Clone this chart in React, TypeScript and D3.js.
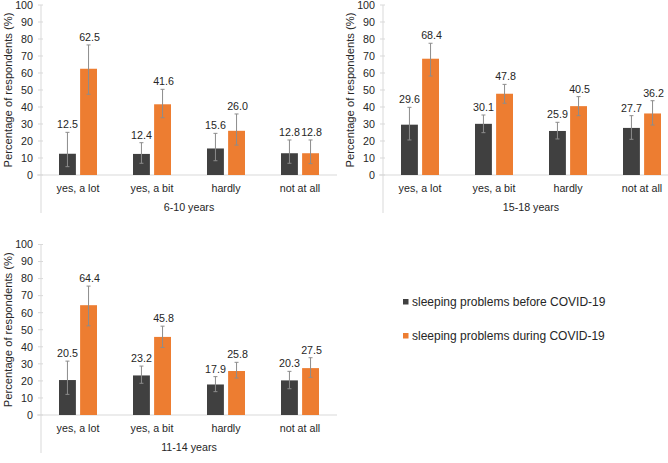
import React, { useRef, useEffect } from "react";
import { select, scaleBand, scaleLinear, range } from "d3";

const categories = ["yes, a lot", "yes, a bit", "hardly", "not at all"];
const seriesNames = ["sleeping problems before COVID-19", "sleeping problems during COVID-19"];
const yTicks = [0, 10, 20, 30, 40, 50, 60, 70, 80, 90, 100];

// 6-10 years
const before6to10 = [12.5, 12.4, 15.6, 12.8];
const during6to10 = [62.5, 41.6, 26.0, 12.8];
const before6to10Low = [4.9, 6.9, 8.4, 6.9];
const before6to10High = [25.1, 19.0, 24.5, 20.6];
const during6to10Low = [47.5, 33.7, 17.6, 6.7];
const during6to10High = [76.5, 50.4, 35.9, 20.6];

// 15-18 years
const before15to18 = [29.6, 30.1, 25.9, 27.7];
const during15to18 = [68.4, 47.8, 40.5, 36.2];
const before15to18Low = [20.6, 24.9, 21.2, 21.0];
const before15to18High = [39.8, 35.3, 31.0, 34.9];
const during15to18Low = [58.2, 42.2, 34.9, 29.4];
const during15to18High = [77.5, 53.3, 46.1, 43.7];

// 11-14 years
const before11to14 = [20.5, 23.2, 17.9, 20.3];
const during11to14 = [64.4, 45.8, 25.8, 27.5];
const before11to14Low = [12.1, 18.6, 13.7, 15.4];
const before11to14High = [31.6, 28.7, 22.5, 25.6];
const during11to14Low = [52.3, 39.6, 21.7, 22.1];
const during11to14High = [75.6, 52.1, 30.9, 33.6];

const colors = ["#404040", "#ED7D31"];
const font = "'Liberation Sans', Arial, sans-serif";
const textColor = "#262626";
const axisColor = "#d9d9d9";

const panels = [
  { title: "6-10 years", left: 41, top: 5, bottom: 175,
    values: [before6to10, during6to10], lows: [before6to10Low, during6to10Low], highs: [before6to10High, during6to10High] },
  { title: "15-18 years", left: 383, top: 5, bottom: 175,
    values: [before15to18, during15to18], lows: [before15to18Low, during15to18Low], highs: [before15to18High, during15to18High] },
  { title: "11-14 years", left: 41, top: 244.5, bottom: 415,
    values: [before11to14, during11to14], lows: [before11to14Low, during11to14Low], highs: [before11to14High, during11to14High] },
];

function App() {
  const svgRef = useRef<SVGSVGElement>(null);

  useEffect(() => {
    document.body.style.margin = "0";
    const svg = select(svgRef.current);
    svg.selectAll("*").remove();

    panels.forEach((p) => {
      const g = svg.append("g");
      const plotWidth = 296;
      const x0 = scaleBand().domain(categories).range([p.left, p.left + plotWidth]);
      const bw = x0.bandwidth();
      const x1 = scaleBand().domain(["0", "1"]).range([bw / 2 - 19, bw / 2 + 19]).paddingInner(0.2);
      const y = scaleLinear().domain([0, 100]).range([p.bottom, p.top]);

      // axes
      g.append("line")
        .attr("x1", p.left).attr("x2", p.left)
        .attr("y1", p.top).attr("y2", p.bottom + 38)
        .attr("stroke", axisColor);
      g.append("line")
        .attr("x1", p.left - 4).attr("x2", p.left + plotWidth)
        .attr("y1", p.bottom).attr("y2", p.bottom)
        .attr("stroke", axisColor);
      g.selectAll(".tick")
        .data(yTicks)
        .join("line")
        .attr("x1", p.left - 3).attr("x2", p.left + 2)
        .attr("y1", (d) => y(d)).attr("y2", (d) => y(d))
        .attr("stroke", axisColor);
      g.selectAll(".ticklabel")
        .data(yTicks)
        .join("text")
        .attr("x", p.left - 8)
        .attr("y", (d) => y(d) + 3.8)
        .attr("text-anchor", "end")
        .attr("font-size", 10.7)
        .attr("fill", textColor)
        .text((d) => d);

      g.append("text")
        .attr("transform", `translate(${p.left - 29},${(p.top + p.bottom) / 2}) rotate(-90)`)
        .attr("text-anchor", "middle")
        .attr("font-size", 11.2)
        .attr("fill", textColor)
        .text("Percentage of respondents (%)");

      g.selectAll(".cat")
        .data(categories)
        .join("text")
        .attr("x", (d) => x0(d)! + bw / 2)
        .attr("y", p.bottom + 17)
        .attr("text-anchor", "middle")
        .attr("font-size", 10.7)
        .attr("fill", textColor)
        .text((d) => d);

      g.append("text")
        .attr("x", p.left + plotWidth / 2)
        .attr("y", p.bottom + 36)
        .attr("text-anchor", "middle")
        .attr("font-size", 10.7)
        .attr("fill", textColor)
        .text(p.title);

      p.values.forEach((vals, s) => {
        const items = range(categories.length).map((i) => ({
          cat: categories[i], v: vals[i], lo: p.lows[s][i], hi: p.highs[s][i],
        }));
        const bx = (d: { cat: string }) => x0(d.cat)! + x1(String(s))!;
        const bwi = x1.bandwidth();

        g.selectAll(`.bar${s}`)
          .data(items)
          .join("rect")
          .attr("x", bx)
          .attr("y", (d) => y(d.v))
          .attr("width", bwi)
          .attr("height", (d) => p.bottom - y(d.v))
          .attr("fill", colors[s]);

        g.selectAll(`.err${s}`)
          .data(items)
          .join("path")
          .attr("d", (d) => {
            const cx = bx(d) + bwi / 2;
            return `M${cx},${y(d.lo)}V${y(d.hi)}M${cx - 2},${y(d.lo)}H${cx + 2}M${cx - 2},${y(d.hi)}H${cx + 2}`;
          })
          .attr("stroke", "#8c8c8c")
          .attr("stroke-width", 1)
          .attr("fill", "none");

        g.selectAll(`.lab${s}`)
          .data(items)
          .join("text")
          .attr("x", (d) => bx(d) + bwi / 2 + s)
          .attr("y", (d) => y(d.hi) - 4)
          .attr("text-anchor", "middle")
          .attr("font-size", 10.7)
          .attr("fill", textColor)
          .text((d) => d.v.toFixed(1));
      });
    });

    // legend
    const legend = svg.append("g");
    seriesNames.forEach((name, i) => {
      const ly = 302 + i * 34;
      legend.append("rect")
        .attr("x", 403).attr("y", ly - 3)
        .attr("width", 5.5).attr("height", 5.5)
        .attr("fill", colors[i]);
      legend.append("text")
        .attr("x", 412).attr("y", ly + 4)
        .attr("font-size", 12)
        .attr("fill", textColor)
        .text(name);
    });
  }, []);

  return (
    <svg ref={svgRef} width={668} height={463} style={{ display: "block", fontFamily: font, background: "#fff" }} />
  );
}

export default App;
